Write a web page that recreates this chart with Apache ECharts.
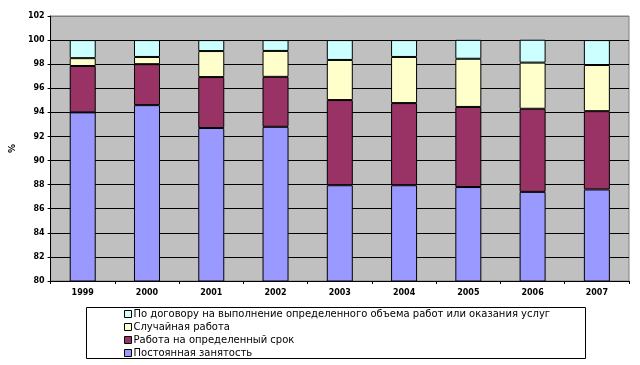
<!DOCTYPE html>
<html><head><meta charset="utf-8">
<script src="https://cdn.jsdelivr.net/npm/echarts@6/dist/echarts.min.js"></script>
<style>html,body{margin:0;padding:0;background:#fff}#c{width:640px;height:365px}</style>
</head><body><div id="c"></div>
<script>
const categories = ['1999','2000','2001','2002','2003','2004','2005','2006','2007'];
const permanent = [94.0, 94.6, 92.7, 92.8, 87.95, 87.95, 87.8, 87.4, 87.6];
const fixedTerm = [3.85, 3.4, 4.23, 4.15, 7.07, 6.82, 6.65, 6.9, 6.5];
const casual = [0.65, 0.6, 2.16, 2.15, 3.33, 3.83, 4.0, 3.83, 3.83];
const contract = [1.5, 1.4, 0.91, 0.9, 1.65, 1.4, 1.57, 1.9, 2.07];
const seriesNames = ['Постоянная занятость','Работа на определенный срок','Случайная работа','По договору на выполнение определенного объема работ или оказания услуг'];
const yTicks = {min: 80, max: 102, interval: 2};

const colors = ['#9999FF','#993366','#FFFFCC','#CCFFFF'];
const datasets = [permanent, fixedTerm, casual, contract];
const splitColors = ['#000','#000','#000','#000','#000','#000','#000','#000','#000','#000','#000','#808080'];
const chart = echarts.init(document.getElementById('c'));
chart.setOption({
  animation: false,
  textStyle: {fontFamily: 'DejaVu Sans'},
  grid: {left: 48, right: 11, top: 16, bottom: 84, show: true, backgroundColor: '#C0C0C0', borderColor: '#808080', borderWidth: 1},
  xAxis: {
    type: 'category', data: categories, boundaryGap: true,
    axisLine: {lineStyle: {color: '#000'}},
    axisTick: {show: true, length: 3, lineStyle: {color: '#000'}},
    axisLabel: {color: '#000', fontSize: 8, fontWeight: 'bold', margin: 8}
  },
  yAxis: {
    type: 'value', min: yTicks.min, max: yTicks.max, interval: yTicks.interval,
    name: '%', nameLocation: 'middle', nameGap: 25, nameRotate: 90,
    nameTextStyle: {color: '#000', fontSize: 9, fontWeight: 'bold'},
    axisLine: {show: true, lineStyle: {color: '#000'}},
    axisTick: {show: true, length: 3, lineStyle: {color: '#000'}},
    axisLabel: {color: '#000', fontSize: 8, fontWeight: 'bold', margin: 6},
    splitLine: {show: true, lineStyle: {color: splitColors, width: 1}}
  },
  legend: {
    orient: 'vertical', left: 124, top: 308, height: 120, padding: 0,
    itemWidth: 7, itemHeight: 7, itemGap: 1,
    icon: 'rect',
    data: [seriesNames[3], seriesNames[2], seriesNames[1], seriesNames[0]],
    textStyle: {color: '#000', fontSize: 10, lineHeight: 12, padding: [0,0,0,-3]},
    itemStyle: {borderColor: '#000', borderWidth: 1}
  },
  graphic: [{type: 'rect', shape: {x: 86.5, y: 307.5, width: 499, height: 51}, style: {fill: 'none', stroke: '#000', lineWidth: 1}, z: 100}],
  series: datasets.map((d, i) => ({
    name: seriesNames[i], type: 'bar', stack: 's', data: d, barWidth: 26,
    itemStyle: {color: colors[i], borderColor: '#000', borderWidth: 1}
  }))
});
</script></body></html>
